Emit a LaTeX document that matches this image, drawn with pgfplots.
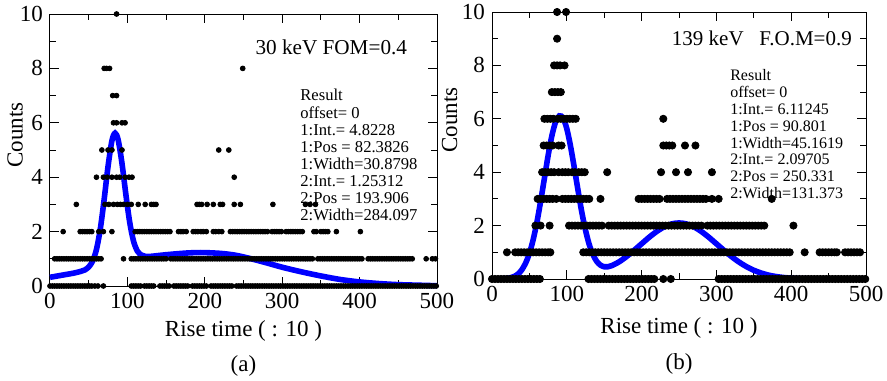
\documentclass[border=0pt]{standalone}
\usepackage{fontspec}
\setmainfont{Liberation Serif}
\usepackage{pgfplots}
\pgfplotsset{compat=1.18}
\definecolor{fitblue}{RGB}{0,0,255}
\begin{document}
\begin{tikzpicture}
\pgfplotsset{
 common/.style={scale only axis, xmin=0,xmax=500,ymin=0,ymax=10,
  xtick={0,100,200,300,400,500}, ytick={0,2,4,6,8,10},
  minor x tick num=1, minor y tick num=1,
  major tick length=4.5pt, minor tick length=3pt, clip=false,
  axis line style={line width=0.5pt},
  every tick/.style={line width=0.5pt,black},
  tick label style={font=\fontsize{11.5}{12}\selectfont},
  /pgf/number format/assume math mode=true,
  label style={font=\fontsize{11.5}{13}\selectfont},
  ylabel=Counts, xlabel={Rise time ( : 10 )}},
 dots/.style={only marks, mark=*, mark options={draw=black,fill=black}, black},
 fit/.style={fitblue, line width=2.8pt, smooth, no marks}
}
\path[use as bounding box] (0,0) rectangle (443.5pt,-190pt);
% ---------------- (a) ----------------
\begin{axis}[common, name=L, at={(25pt,-143pt)}, anchor=south west, width=193.5pt, height=136pt,
 xlabel style={at={(axis description cs:0.5,-0.165)},anchor=center},
 ylabel style={at={(axis description cs:-0.09,0.555)},anchor=center}]
\addplot[dots, mark size=1.2pt] coordinates {
(0,0)(3,0)(6,0)(9,0)(12,0)(15,0)(18,0)(21,0)(24,0)(27,0)(30,0)(33,0)(36,0)(39,0)(42,0)(45,0)(48,0)(51,0)(54,0)(58,0)(62,0)(69,0)
(105,0)(108,0)(111,0)(114,0)(117,0)(122,0)(125,0)(128,0)(131,0)(134,0)
(142,0)(145,0)(148,0)(151,0)(154,0)(160,0)(163,0)(166,0)(169,0)(172,0)(175,0)(178,0)(184,0)(187,0)(190,0)(193,0)(196,0)(199,0)(202,0)(208,0)(211,0)(214,0)(217,0)(220,0)(223,0)(226,0)(229,0)(232,0)(235,0)(241,0)(244,0)(247,0)(250,0)(253,0)(256,0)(259,0)(262,0)(265,0)(268,0)(271,0)(274,0)(277,0)(280,0)(283,0)(286,0)(289,0)(292,0)(295,0)(298,0)(301,0)(304,0)(307,0)(310,0)(313,0)(316,0)(319,0)(322,0)(325,0)(328,0)(331,0)(334,0)(337,0)(340,0)(343,0)(346,0)(349,0)(352,0)(355,0)(358,0)(361,0)(364,0)(367,0)(370,0)(373,0)(376,0)(379,0)(382,0)(385,0)(388,0)(391,0)(394,0)(397,0)(400,0)(403,0)(406,0)(409,0)(412,0)(415,0)(418,0)(421,0)(424,0)(427,0)(430,0)(433,0)(436,0)(439,0)(442,0)(445,0)(448,0)(451,0)(454,0)(457,0)(460,0)(463,0)(466,0)(469,0)(472,0)(475,0)(478,0)(481,0)(484,0)(487,0)(490,0)(493,0)(496,0)(499,0)
(6,1)(9,1)(12,1)(15,1)(18,1)(21,1)(24,1)(27,1)(30,1)(33,1)(36,1)(39,1)(42,1)(45,1)(48,1)(51,1)(54,1)(57,1)(60,1)(63,1)(66,1)(95,1)
(105,1)(108,1)(111,1)(114,1)(117,1)(120,1)(123,1)(126,1)(129,1)(132,1)(135,1)(138,1)(141,1)(144,1)(147,1)(150,1)(156,1)(159,1)(162,1)(165,1)(168,1)(171,1)(174,1)(177,1)(180,1)(183,1)(186,1)(189,1)(192,1)(195,1)(198,1)(201,1)(204,1)(207,1)(210,1)(213,1)(216,1)(219,1)(222,1)(225,1)(228,1)(231,1)(234,1)(237,1)(240,1)(243,1)(246,1)(249,1)(252,1)(255,1)(258,1)(261,1)(264,1)(267,1)(270,1)(273,1)(276,1)(279,1)(282,1)(285,1)(288,1)(291,1)(294,1)(297,1)(300,1)(303,1)(306,1)(309,1)(312,1)(315,1)(318,1)(321,1)(324,1)(327,1)(330,1)(333,1)(336,1)(339,1)(346,1)(349,1)(352,1)(355,1)(358,1)(361,1)(364,1)(367,1)(370,1)(373,1)(376,1)(379,1)(382,1)(385,1)(388,1)(391,1)(394,1)(397,1)(400,1)(403,1)(411,1)(414,1)(417,1)(420,1)(423,1)(426,1)(429,1)(432,1)(435,1)(438,1)(441,1)(444,1)(447,1)(450,1)(453,1)(456,1)(459,1)(462,1)(465,1)(468,1)(486,1)(494,1)(498,1)
(17,2)(39,2)(42,2)(45,2)(48,2)(51,2)(54,2)(63,2)(69,2)(80,2)(110,2)(113,2)(116,2)(119,2)(122,2)(125,2)(128,2)(131,2)(134,2)(137,2)(140,2)(143,2)(146,2)(149,2)(152,2)(155,2)(166,2)(169,2)(172,2)(176,2)(185,2)(188,2)(191,2)(195,2)(198,2)(202,2)(211,2)(214,2)(218,2)(222,2)(233,2)(236,2)(239,2)(242,2)(245,2)(248,2)(251,2)(254,2)(257,2)(260,2)(263,2)(266,2)(269,2)(272,2)(275,2)(278,2)(281,2)(287,2)(290,2)(293,2)(296,2)(299,2)(305,2)(308,2)(311,2)(314,2)(317,2)(320,2)(323,2)(326,2)(341,2)(344,2)(350,2)(353,2)(356,2)(359,2)(370,2)(401,2)
(34,3)(71,3)(76,3)(82,3)(87,3)(91,3)(95,3)(100,3)(105,3)(114,3)(123,3)(131,3)(134,3)(137,3)(190,3)(193,3)(196,3)(203,3)(211,3)(220,3)(223,3)(238,3)(246,3)(288,3)(330,3)(336,3)(343,3)
(60,4)(69,4)(74,4)(80,4)(86,4)(90,4)(97,4)(102,4)(106,4)(238,4)
(67,5)(75,5)(80,5)(93,5)(218,5)(231,5)
(82,6)(86,6)(93,6)(97,6)
(81,7)(86,7)
(70,8)(73,8)(77,8)(249,8)
(86,10)
};
\addplot[fit] coordinates {
(0,0.32)(10,0.37)(20,0.42)(30,0.47)(40,0.54)(45,0.59)(50,0.70)(55,0.91)(60,1.34)(65,2.10)(70,3.19)(75,4.40)(80,5.34)(84,5.62)(88,5.38)(93,4.51)(98,3.37)(103,2.34)(108,1.64)(113,1.28)(118,1.14)(123,1.09)(130,1.09)(150,1.15)(175,1.21)(195,1.23)(220,1.2)(240,1.13)(260,1.0)(280,0.85)(300,0.69)(325,0.52)(350,0.37)(375,0.24)(400,0.15)(425,0.09)(450,0.05)(475,0.03)(500,0.01)
};
\node[anchor=west, font=\fontsize{10.6}{12}\selectfont, inner sep=0pt] at (axis cs:265,8.79) {30 keV FOM=0.4};
\node[anchor=north west, align=left, inner sep=0pt, font=\fontsize{8.3}{8.55}\selectfont] at (axis cs:323,7.24)
 {Result\\offset= 0\\1:Int.= 4.8228\\1:Pos = 82.3826\\1:Width=30.8798\\2:Int.= 1.25312\\2:Pos = 193.906\\2:Width=284.097};
\end{axis}
\node[font=\fontsize{11.5}{13}\selectfont] at ([yshift=-40pt]L.south) {(a)};
% ---------------- (b) ----------------
\begin{axis}[common, name=R, at={(246pt,-139.5pt)}, anchor=south west, width=187pt, height=133.5pt,
 xlabel style={at={(axis description cs:0.5,-0.1835)},anchor=center},
 ylabel style={at={(axis description cs:-0.1136,0.596)},anchor=center}]
\addplot[dots, mark size=1.8pt] coordinates {
(0,0)(4,0)(8,0)(12,0)(16,0)(20,0)(24,0)(28,0)(32,0)(36,0)(40,0)(44,0)(48,0)(52,0)(56,0)(60,0)(64,0)
(129,0)(133,0)(137,0)(141,0)(145,0)(149,0)(153,0)(157,0)(161,0)(165,0)(169,0)(173,0)(177,0)(181,0)(185,0)(189,0)(193,0)(197,0)(201,0)(205,0)(209,0)(213,0)(217,0)(229,0)(239,0)
(303,0)(307,0)(311,0)(315,0)(319,0)(323,0)(327,0)(331,0)(335,0)(339,0)(343,0)(347,0)(351,0)(355,0)(359,0)(363,0)(367,0)(371,0)(375,0)(379,0)(383,0)(387,0)(391,0)(395,0)(399,0)(403,0)(407,0)(411,0)(415,0)(419,0)(423,0)(427,0)(431,0)(435,0)(439,0)(443,0)(447,0)(451,0)(455,0)(459,0)(463,0)(467,0)(471,0)(475,0)(479,0)(483,0)(487,0)(491,0)(495,0)(499,0)
(20,1)(31,1)(35,1)(39,1)(43,1)(47,1)(51,1)(55,1)(59,1)(63,1)(67,1)(71,1)(75,1)(78,1)
(122,1)(126,1)(130,1)(134,1)(138,1)(142,1)(146,1)(150,1)(154,1)(158,1)(162,1)(166,1)(170,1)(174,1)(178,1)(182,1)(186,1)(190,1)(194,1)(198,1)(202,1)(206,1)(210,1)(214,1)(218,1)(222,1)(226,1)(230,1)(234,1)(238,1)(242,1)(246,1)(250,1)(254,1)(258,1)(262,1)(266,1)(270,1)(274,1)(278,1)(282,1)(286,1)(290,1)(294,1)(298,1)(302,1)(306,1)(310,1)(314,1)(318,1)(322,1)(326,1)(330,1)(334,1)(338,1)(342,1)(346,1)(350,1)(354,1)(358,1)(362,1)(366,1)(370,1)(374,1)(378,1)(382,1)(386,1)(390,1)(394,1)(398,1)
(418,1)(438,1)(442,1)(446,1)(450,1)(454,1)(458,1)(461,1)(472,1)(476,1)(480,1)(484,1)(488,1)(492,1)
(58,2)(65,2)(77,2)(103,2)(107,2)(111,2)(115,2)(119,2)(123,2)(127,2)(131,2)(135,2)(139,2)(143,2)(147,2)
(156,2)(160,2)(164,2)(168,2)(172,2)(176,2)(180,2)(184,2)(188,2)(192,2)(196,2)(200,2)(204,2)(208,2)(212,2)(216,2)(220,2)(224,2)(228,2)(232,2)(236,2)(240,2)(244,2)(248,2)(252,2)(256,2)(260,2)(264,2)(268,2)(272,2)(276,2)(280,2)(288,2)(292,2)(296,2)(300,2)(304,2)(308,2)(312,2)(316,2)(320,2)(324,2)(328,2)(332,2)(336,2)(340,2)(344,2)(348,2)(352,2)(356,2)(360,2)(364,2)(403,2)
(61,3)(65,3)(69,3)(73,3)(77,3)(81,3)(86,3)(94,3)(98,3)(102,3)(106,3)(110,3)(114,3)(118,3)(122,3)(126,3)(130,3)(145,3)
(196,3)(200,3)(204,3)(208,3)(212,3)(216,3)(220,3)(224,3)(234,3)(238,3)(242,3)(246,3)(250,3)(254,3)(258,3)(262,3)(266,3)(270,3)(274,3)(278,3)(282,3)(286,3)(294,3)(303,3)(374,3)
(67,4)(71,4)(75,4)(79,4)(83,4)(89,4)(94,4)(98,4)(102,4)(107,4)(111,4)(116,4)(120,4)(124,4)(154,4)(226,4)(246,4)(262,4)(294,4)
(69,5)(73,5)(77,5)(81,5)(89,5)(93,5)(229,5)(233,5)(237,5)(241,5)(258,5)(272,5)
(70,6)(74,6)(78,6)(82,6)(88,6)(92,6)(96,6)(100,6)(104,6)(108,6)(112,6)(229,6)
(80,7)(84,7)(88,7)(92,7)
(83,8)(87,8)(91,8)(97,8)
(87,9)
(87,10)(99,10)
};
\addplot[fit] coordinates {
(0,0)(10,0.005)(20,0.024)(25,0.05)(30,0.10)(35,0.19)(40,0.35)(45,0.60)(50,0.96)(55,1.47)(60,2.12)(65,2.91)(70,3.76)(75,4.62)(80,5.36)(85,5.88)(90,6.11)(95,6.03)(100,5.63)(105,4.97)(110,4.17)(115,3.32)(120,2.51)(125,1.83)(130,1.29)(135,0.91)(140,0.66)(145,0.52)(150,0.46)(155,0.46)(160,0.50)(170,0.645)(180,0.845)(190,1.076)(200,1.319)(210,1.56)(220,1.777)(230,1.95)(240,2.061)(250,2.1)(260,2.061)(270,1.95)(280,1.777)(290,1.56)(300,1.319)(310,1.076)(320,0.845)(330,0.639)(340,0.466)(350,0.327)(360,0.222)(370,0.144)(380,0.091)(390,0.055)(400,0.032)(420,0.01)(450,0.001)(500,0)
};
\node[anchor=west, font=\fontsize{10.5}{12}\selectfont, inner sep=0pt] at (axis cs:240,9.0) {139 keV\hspace{0.75em}F.O.M=0.9};
\node[anchor=north west, align=left, inner sep=0pt, font=\fontsize{8.0}{8.4}\selectfont] at (axis cs:318,7.85)
 {Result\\offset= 0\\1:Int.= 6.11245\\1:Pos = 90.801\\1:Width=45.1619\\2:Int.= 2.09705\\2:Pos = 250.331\\2:Width=131.373};
\end{axis}
\node[font=\fontsize{11.5}{13}\selectfont] at ([yshift=-42.5pt]R.south) {(b)};
\end{tikzpicture}
\end{document}
